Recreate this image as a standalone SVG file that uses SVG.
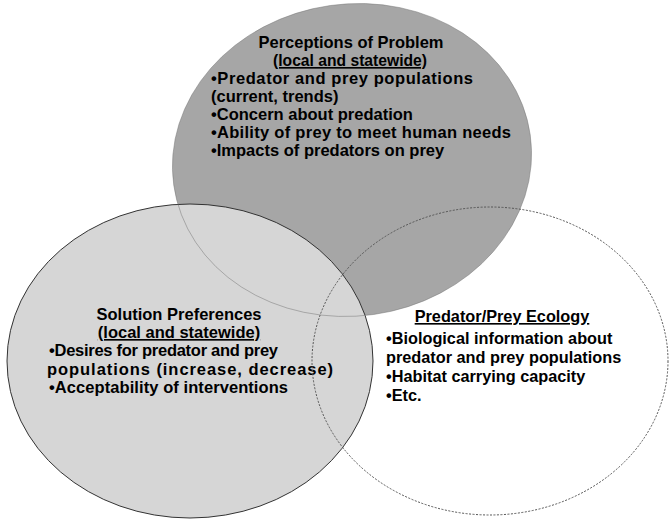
<svg xmlns="http://www.w3.org/2000/svg" width="669" height="522" viewBox="0 0 669 522">
  <style>
    .label { font-family: "Liberation Sans", Arial, sans-serif; font-weight: bold; fill: #000; }
    .top { font-size: 16.5px; }
    .left { font-size: 16.5px; }
    .right { font-size: 16.3px; }
    .mid { text-anchor: middle; }
    .ul { text-decoration: underline; }
  </style>
  <rect width="669" height="522" fill="#fff"/>

  <!-- Perceptions of Problem -->
  <g id="perceptions">
    <ellipse cx="352" cy="160" rx="180" ry="156" transform="rotate(-8 352 160)" fill="#a6a6a6"/>
    <text class="label top mid" x="351" y="48" textLength="185" lengthAdjust="spacingAndGlyphs">Perceptions of Problem</text>
    <text class="label top mid ul" x="350" y="66" textLength="154" lengthAdjust="spacingAndGlyphs">(local and statewide)</text>
    <text class="label top" x="211" y="84" textLength="262" lengthAdjust="spacing">•Predator and prey populations</text>
    <text class="label top" x="211" y="102">(current, trends)</text>
    <text class="label top" x="211" y="120">•Concern about predation</text>
    <text class="label top" x="211" y="138" textLength="300" lengthAdjust="spacing">•Ability of prey to meet human needs</text>
    <text class="label top" x="211" y="156">•Impacts of predators on prey</text>
  </g>

  <!-- Solution Preferences -->
  <g id="solutions">
    <ellipse cx="190" cy="361" rx="183" ry="157" fill="#d6d6d6" stroke="#333" stroke-width="1"/>
    <text class="label left mid" x="179" y="320">Solution Preferences</text>
    <text class="label left mid ul" x="179" y="338">(local and statewide)</text>
    <text class="label left" x="49" y="356" textLength="229" lengthAdjust="spacing">•Desires for predator and prey</text>
    <text class="label left" x="47" y="375" textLength="286" lengthAdjust="spacing">populations (increase, decrease)</text>
    <text class="label left" x="49" y="393" textLength="239" lengthAdjust="spacing">•Acceptability of interventions</text>
  </g>

  <!-- faint edge of the perceptions circle seen through the solutions circle -->
  <ellipse cx="352" cy="160" rx="180" ry="156" transform="rotate(-8 352 160)" fill="none" stroke="#777" stroke-width="0.8" stroke-opacity="0.6"/>

  <!-- Predator/Prey Ecology -->
  <g id="ecology">
    <ellipse cx="490" cy="361" rx="178" ry="154" fill="none" stroke="#555" stroke-width="1" stroke-dasharray="2 1.5"/>
    <text class="label right mid ul" x="502" y="322">Predator/Prey Ecology</text>
    <text class="label right" x="386" y="344">•Biological information about</text>
    <text class="label right" x="386" y="363">predator and prey populations</text>
    <text class="label right" x="386" y="382">•Habitat carrying capacity</text>
    <text class="label right" x="386" y="401">•Etc.</text>
  </g>
</svg>
